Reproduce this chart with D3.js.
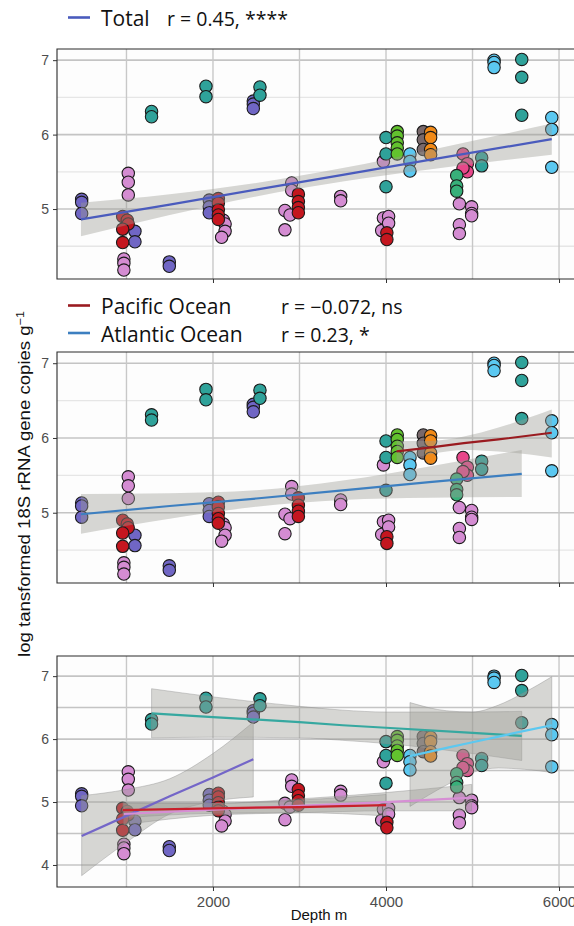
<!DOCTYPE html>
<html><head><meta charset="utf-8">
<script src="https://cdn.jsdelivr.net/npm/d3@7"></script>
<style>body{margin:0;background:#fff}svg{display:block}</style>
</head><body>
<svg id="c" width="574" height="926"></svg>
<script>
// ---------- data (depth m, log-transformed 18S rRNA gene copies per g) ----------
const groupOrder = ["purple","orchid","teal","red","brown","orange","lime","sky","magenta","seagreen"];
const groupColors = ["#7066c4","#d48cd2","#2fa29a","#c4161f","#78686b","#f18a18","#62c22e","#5bc8f1","#e8478a","#38b07a"];

const purpleDepth = [482,482,482,1098,1098,1495,1495,1957,1957,1957,2466,2466,2466];
const purpleLog   = [5.13,5.09,4.94,4.70,4.56,4.29,4.23,5.12,5.03,4.95,6.45,6.41,6.35];
const orchidDepth = [1021,1021,1021,970,970,970,2120,2140,2140,2100,2910,2910,2832,2832,2890,3476,3476,3970,3970,4030,3950,4030,4848,4848,4848,4990,4990,4990];
const orchidLog   = [5.48,5.36,5.19,4.33,4.27,4.18,4.85,4.80,4.70,4.62,5.35,5.25,4.98,4.72,4.92,5.17,5.11,5.64,4.88,4.90,4.71,4.81,5.07,4.79,4.67,5.03,4.94,4.91];
const tealDepth   = [1290,1290,1919,1919,2543,2543,4000,4000,4000,5106,5106,5569,5569,5569];
const tealLog     = [6.31,6.24,6.65,6.51,6.64,6.53,5.96,5.74,5.30,5.69,5.58,7.01,6.77,6.26];
const redDepth    = [956,1009,1020,956,956,2062,2062,2062,2062,2062,2987,2987,2987,2987,4010,4010];
const redLog      = [4.90,4.85,4.80,4.73,4.55,5.14,5.08,4.99,4.92,4.86,5.20,5.10,5.02,4.95,4.68,4.59];
const brownDepth  = [4431,4431,4431];
const brownLog    = [6.04,5.93,5.80];
const orangeDepth = [4516,4516,4516,4516];
const orangeLog   = [6.03,5.96,5.80,5.73];
const limeDepth   = [4130,4130,4130,4130,4130];
const limeLog     = [6.04,5.98,5.89,5.82,5.74];
const skyDepth    = [4277,4277,4277,5249,5249,5249,5916,5916,5916];
const skyLog      = [5.74,5.64,5.51,7.00,6.97,6.90,6.23,6.07,5.56];
const magentaDepth= [4890,4940,4940,4890];
const magentaLog  = [5.74,5.61,5.50,5.55];
const seagreenDepth=[4817,4817,4817];
const seagreenLog = [5.45,5.31,5.24];

// regression fits: depth, fitted value, lower and upper CI
const totalFitDepth = [474,1500,2500,3500,4500,5916];
const totalFitMid   = [4.86,5.06,5.26,5.46,5.66,5.94];
const totalFitLow   = [4.635,4.92,5.17,5.37,5.53,5.73];
const totalFitHigh  = [5.085,5.20,5.35,5.55,5.79,6.15];

const pacificFitDepth = [4122,4500,4900,5300,5916];
const pacificFitMid   = [5.82,5.87,5.93,5.98,6.07];
const pacificFitLow   = [5.67,5.78,5.84,5.82,5.74];
const pacificFitHigh  = [5.96,5.96,6.02,6.14,6.38];

const atlanticFitDepth = [474,1500,2500,3500,4500,5569];
const atlanticFitMid   = [4.98,5.09,5.19,5.30,5.41,5.52];
const atlanticFitLow   = [4.72,4.92,5.08,5.17,5.20,5.21];
const atlanticFitHigh  = [5.25,5.26,5.30,5.43,5.62,5.84];

const purpleFitDepth = [482,1000,1500,2000,2466];
const purpleFitMid   = [4.46,4.78,5.09,5.39,5.68];
const purpleFitLow   = [3.83,4.36,4.81,5.01,5.08];
const purpleFitHigh  = [5.10,5.20,5.37,5.77,6.27];

const redFitDepth = [960,2000,3000,4000];
const redFitMid   = [4.87,4.90,4.92,4.95];
const redFitLow   = [4.75,4.82,4.83,4.78];
const redFitHigh  = [4.99,4.98,5.03,5.12];

const orchidFitDepth = [970,2000,3000,4000,4990];
const orchidFitMid   = [4.81,4.88,4.94,5.00,5.07];
const orchidFitLow   = [4.64,4.79,4.83,4.86,4.86];
const orchidFitHigh  = [4.98,4.98,5.05,5.15,5.28];

const tealFitDepth = [1290,2000,3000,3500,4000,5000,5569];
const tealFitMid   = [6.41,6.35,6.27,6.22,6.18,6.10,6.05];
const tealFitLow   = [6.02,6.03,6.02,5.98,5.93,5.77,5.66];
const tealFitHigh  = [6.80,6.67,6.52,6.46,6.43,6.43,6.44];

const skyFitDepth = [4277,4700,5000,5300,5600,5916];
const skyFitMid   = [5.73,5.86,5.95,6.04,6.13,6.22];
const skyFitLow   = [4.93,5.27,5.47,5.54,5.52,5.47];
const skyFitHigh  = [6.58,6.45,6.43,6.54,6.74,6.99];

const xTickValues = [2000,4000,6000];
const xGridValues = [1000,2000,3000,4000,5000,6000];
const legendTotal = [["Total","r = 0.45, ****"]];
const legendOcean = [["Pacific Ocean","r = \u22120.072, ns"],["Atlantic Ocean","r = 0.23, *"]];
const yLabel = "log tansformed 18S rRNA gene copies g";
const xLabel = "Depth m";

// ---------- assemble ----------
const groupData = {
  purple:[purpleDepth,purpleLog], orchid:[orchidDepth,orchidLog], teal:[tealDepth,tealLog],
  red:[redDepth,redLog], brown:[brownDepth,brownLog], orange:[orangeDepth,orangeLog],
  lime:[limeDepth,limeLog], sky:[skyDepth,skyLog], magenta:[magentaDepth,magentaLog],
  seagreen:[seagreenDepth,seagreenLog]
};
const points = [];
groupOrder.forEach((g,i)=>{
  const [ds,vs]=groupData[g];
  ds.forEach((d,j)=>points.push({g, color:groupColors[i], d, v:vs[j]}));
});
function fit(depth,mid,low,high,color){
  return {color, rows: depth.map((d,i)=>({d, m:mid[i], lo:low[i], hi:high[i]}))};
}
const fitsTotal = [fit(totalFitDepth,totalFitMid,totalFitLow,totalFitHigh,"#4a5bbd")];
const fitsOcean = [fit(atlanticFitDepth,atlanticFitMid,atlanticFitLow,atlanticFitHigh,"#3d7fc0"),
                   fit(pacificFitDepth,pacificFitMid,pacificFitLow,pacificFitHigh,"#9a1b20")];
const fitsGroup = [fit(purpleFitDepth,purpleFitMid,purpleFitLow,purpleFitHigh,"#7466c8"),
                   fit(tealFitDepth,tealFitMid,tealFitLow,tealFitHigh,"#36a8a0"),
                   fit(orchidFitDepth,orchidFitMid,orchidFitLow,orchidFitHigh,"#d68fd4"),
                   fit(redFitDepth,redFitMid,redFitLow,redFitHigh,"#c8202b"),
                   fit(skyFitDepth,skyFitMid,skyFitLow,skyFitHigh,"#5cc8f0")];

const svg = d3.select("#c");
const x = d3.scaleLinear().domain([197, 6358]).range([57, 590]);

const panels = [
  {top:49, bottom:279, dom:[4.06,7.15], ticks:[5,6,7], major:[5,6,7], minor:[4.5,5.5,6.5], fits:fitsTotal, labels:false, strong:false},
  {top:352, bottom:583, dom:[4.06,7.15], ticks:[5,6,7], major:[5,6,7], minor:[4.5,5.5,6.5], fits:fitsOcean, labels:false, strong:false},
  {top:656, bottom:887, dom:[3.65,7.32], ticks:[4,5,6,7], major:[4,5,6,7], minor:[4.5,5.5,6.5], fits:fitsGroup, labels:true, strong:true}
];

panels.forEach((p,pi)=>{
  const y = d3.scaleLinear().domain(p.dom).range([p.bottom,p.top]);
  const g = svg.append("g");
  const cid = "clip"+pi;
  svg.append("clipPath").attr("id",cid).append("rect")
    .attr("x",x.range()[0]).attr("y",p.top).attr("width",x.range()[1]-x.range()[0]).attr("height",p.bottom-p.top);
  const inner = g.append("g").attr("clip-path",`url(#${cid})`);
  inner.append("rect").attr("x",57).attr("y",p.top).attr("width",540).attr("height",p.bottom-p.top).attr("fill","#fdfdfd");
  // grid
  inner.selectAll(".hmin").data(p.minor).join("line")
    .attr("x1",57).attr("x2",600).attr("y1",d=>y(d)).attr("y2",d=>y(d))
    .attr("stroke",p.strong?"#c4c4c4":"#e6e6e6").attr("stroke-width",p.strong?1.5:1.3);
  inner.selectAll(".hmaj").data(p.major).join("line")
    .attr("x1",57).attr("x2",600).attr("y1",d=>y(d)).attr("y2",d=>y(d))
    .attr("stroke","#c4c4c4").attr("stroke-width",1.6);
  inner.selectAll(".v").data(xGridValues).join("line")
    .attr("x1",d=>x(d)).attr("x2",d=>x(d)).attr("y1",p.top).attr("y2",p.bottom)
    .attr("stroke","#c8c8c8").attr("stroke-width",1.4);
  // points
  inner.selectAll("circle").data(points).join("circle")
    .attr("cx",d=>x(d.d)).attr("cy",d=>y(d.v)).attr("r",6.2)
    .attr("fill",d=>d.color).attr("stroke","#1a1a1a").attr("stroke-width",1.1);
  // fits
  const area = d3.area().x(r=>x(r.d)).y0(r=>y(r.lo)).y1(r=>y(r.hi)).curve(d3.curveMonotoneX);
  const line = d3.line().x(r=>x(r.d)).y(r=>y(r.m));
  p.fits.forEach(f=>{
    inner.append("path").attr("d",area(f.rows)).attr("fill","#9a9a94").attr("fill-opacity",0.4)
      .attr("stroke", p.strong?"#8a8a8a":"none").attr("stroke-width",0.4);
  });
  p.fits.forEach(f=>{
    inner.append("path").attr("d",line(f.rows)).attr("fill","none").attr("stroke",f.color).attr("stroke-width",2.2);
  });
  // frame
  g.append("path").attr("d",`M600,${p.top}H57V${p.bottom}H600`).attr("fill","none").attr("stroke","#2b2b2b").attr("stroke-width",1.1);
  // axes
  const ya = g.append("g").attr("transform","translate(57,0)")
    .call(d3.axisLeft(y).tickValues(p.ticks).tickFormat(d3.format("d")).tickSize(4).tickPadding(4));
  ya.select(".domain").remove();
  ya.selectAll("line").attr("stroke","#333");
  ya.selectAll("text").attr("font-family","Liberation Sans, Arial, sans-serif").attr("font-size",14).attr("fill","#4d4d4d");
  const xa = g.append("g").attr("transform",`translate(0,${p.bottom})`)
    .call(d3.axisBottom(x).tickValues(xTickValues).tickFormat(p.labels?d3.format("d"):"").tickSize(4).tickPadding(5));
  xa.select(".domain").remove();
  xa.selectAll("line").attr("stroke","#333");
  xa.selectAll("text").attr("font-family","Liberation Sans, Arial, sans-serif").attr("font-size",15).attr("fill","#4d4d4d");
});

// axis titles
svg.append("text").attr("x",319).attr("y",920).attr("text-anchor","middle")
  .attr("font-family","Liberation Sans, Arial, sans-serif").attr("font-size",15).attr("fill","#111").text(xLabel);
const yl = svg.append("text").attr("transform","translate(30,484) rotate(-90)").attr("text-anchor","middle")
  .attr("font-family","Liberation Sans, Arial, sans-serif").attr("font-size",17).attr("fill","#111")
  .attr("textLength",346).attr("lengthAdjust","spacingAndGlyphs");
yl.append("tspan").text(yLabel);
yl.append("tspan").attr("font-size",11.5).attr("dy",-6.5).text("\u22121");

// legends
function legend(rows, y0, colors){
  rows.forEach((r,i)=>{
    const yy = y0 + i*27.5;
    svg.append("line").attr("x1",68).attr("x2",90).attr("y1",yy-8.5).attr("y2",yy-8.5)
      .attr("stroke",colors[i]).attr("stroke-width",2.6);
    svg.append("text").attr("x",101).attr("y",yy).attr("font-family","Open Sans, sans-serif")
      .attr("font-size",21).attr("fill","#111").text(r[0]);
  });
}
legend(legendTotal, 26, ["#4a5bbd"]);
legend(legendOcean, 314, ["#9a1b20","#3d7fc0"]);
svg.append("text").attr("x",167).attr("y",26).attr("font-family","Open Sans, sans-serif")
  .attr("font-size",19.5).attr("fill","#111").text(legendTotal[0][1]);
legendOcean.forEach((r,i)=>{
  svg.append("text").attr("x",281).attr("y",314+i*27.5).attr("font-family","Open Sans, sans-serif")
    .attr("font-size",19.5).attr("fill","#111").text(r[1]);
});
</script>
</body></html>
